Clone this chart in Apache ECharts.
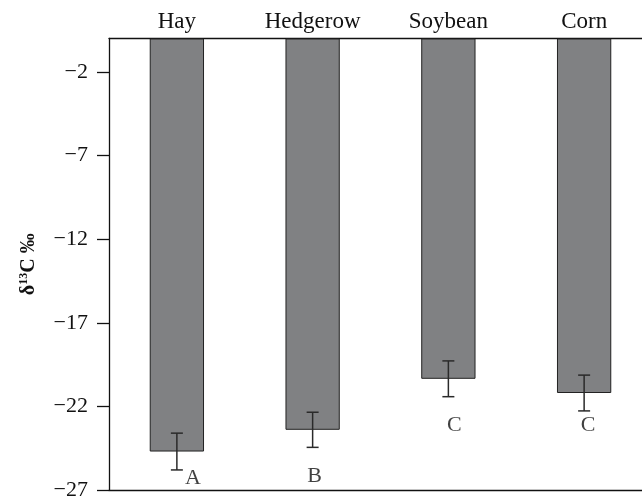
<!DOCTYPE html>
<html>
<head>
<meta charset="utf-8">
<script src="https://cdn.jsdelivr.net/npm/echarts@6/dist/echarts.min.js"></script>
<style>
html,body{margin:0;padding:0;background:#fff;}
#chart{width:642px;height:497px;}
</style>
</head>
<body>
<div id="chart"></div>
<script>
// ---- data ----
var categories = ['Hay', 'Hedgerow', 'Soybean', 'Corn'];
var meanValues = [-24.7, -23.4, -20.35, -21.2];
var errorValues = [1.1, 1.05, 1.07, 1.07];
var groupLetters = ['A', 'B', 'C', 'C'];
var letterValues = [-26.3, -26.2, -23.1, -23.1];
var yTicks = [-27, -22, -17, -12, -7, -2];

// ---- styling ----
var FONT = '"Liberation Serif", "Times New Roman", serif';
var letterOffsetX = [16, 2, 6, 4];

var chart = echarts.init(document.getElementById('chart'), null, {renderer: 'canvas'});

var errData = categories.map(function (c, i) {
  return [i, meanValues[i] - errorValues[i], meanValues[i] + errorValues[i]];
});

var letterData = categories.map(function (c, i) {
  return {
    value: [c, letterValues[i]],
    label: {offset: [letterOffsetX[i], 0]}
  };
});

var option = {
  animation: false,
  grid: {left: 109, top: 38.5, width: 543, height: 451.5, outerBoundsMode: 'none', containLabel: false},
  xAxis: [{
    type: 'category',
    data: categories,
    position: 'top',
    axisLine: {show: true, lineStyle: {color: '#111', width: 1.3}},
    axisTick: {show: false},
    axisLabel: {fontFamily: FONT, fontSize: 23, color: '#111', margin: 5}
  }, {
    type: 'category',
    data: categories,
    position: 'bottom',
    axisLine: {show: true, lineStyle: {color: '#111', width: 1.3}},
    axisTick: {show: false},
    axisLabel: {show: false}
  }],
  yAxis: {
    type: 'value',
    min: -27,
    max: 0,
    splitLine: {show: false},
    axisLine: {show: true, lineStyle: {color: '#111', width: 1.3}},
    axisTick: {show: true, length: 12, lineStyle: {color: '#111', width: 1.3}, customValues: yTicks},
    axisLabel: {
      customValues: yTicks,
      fontFamily: FONT, fontSize: 22, color: '#111', margin: 21,
      formatter: function (v) { return String(v).replace('-', '\u2212'); }
    },
    name: '{a|δ}{s|13}{a|C ‰}',
    nameLocation: 'middle',
    nameGap: 70,
    nameRotate: 90,
    nameTextStyle: {
      fontFamily: FONT, fontSize: 20, fontWeight: 'bold', color: '#111',
      rich: {
        a: {fontFamily: FONT, fontSize: 20, fontWeight: 'bold', color: '#111'},
        s: {fontFamily: FONT, fontSize: 12, fontWeight: 'bold', color: '#111', padding: [0, 0, 9, 0]}
      }
    }
  },
  series: [{
    type: 'bar',
    data: meanValues,
    barWidth: '40%',
    itemStyle: {color: '#808183', borderColor: '#222', borderWidth: 1}
  }, {
    type: 'custom',
    data: errData,
    z: 10,
    renderItem: function (params, api) {
      var x = api.value(0);
      var lo = api.coord([x, api.value(1)]);
      var hi = api.coord([x, api.value(2)]);
      var hw = 6;
      var st = {stroke: '#2a2a2a', lineWidth: 1.5};
      return {
        type: 'group',
        children: [
          {type: 'line', shape: {x1: lo[0], y1: lo[1], x2: hi[0], y2: hi[1]}, style: st},
          {type: 'line', shape: {x1: lo[0] - hw, y1: lo[1], x2: lo[0] + hw, y2: lo[1]}, style: st},
          {type: 'line', shape: {x1: hi[0] - hw, y1: hi[1], x2: hi[0] + hw, y2: hi[1]}, style: st}
        ]
      };
    }
  }, {
    type: 'scatter',
    data: letterData,
    symbolSize: 0,
    silent: true,
    label: {
      show: true,
      position: 'inside',
      fontFamily: FONT,
      fontSize: 22,
      color: '#111',
      formatter: function (p) { return groupLetters[p.dataIndex]; }
    }
  }]
};
chart.setOption(option);
</script>
</body>
</html>
